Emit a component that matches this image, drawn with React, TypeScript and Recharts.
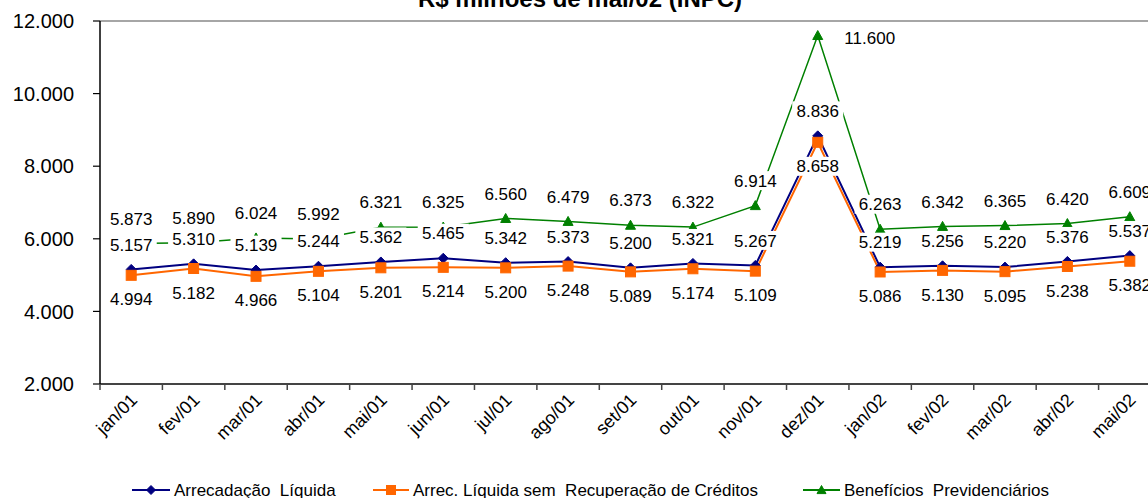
import React from 'react';
import { LineChart, Line, XAxis, YAxis, ReferenceLine, LabelList } from 'recharts';

const months = ['jan/01', 'fev/01', 'mar/01', 'abr/01', 'mai/01', 'jun/01', 'jul/01', 'ago/01', 'set/01', 'out/01', 'nov/01', 'dez/01', 'jan/02', 'fev/02', 'mar/02', 'abr/02', 'mai/02'];
const arrecadacao = [5157, 5310, 5139, 5244, 5362, 5465, 5342, 5373, 5200, 5321, 5267, 8836, 5219, 5256, 5220, 5376, 5537];
const arrecSemRecuperacao = [4994, 5182, 4966, 5104, 5201, 5214, 5200, 5248, 5089, 5174, 5109, 8658, 5086, 5130, 5095, 5238, 5382];
const beneficios = [5873, 5890, 6024, 5992, 6321, 6325, 6560, 6479, 6373, 6322, 6914, 11600, 6263, 6342, 6365, 6420, 6609];
const yTicks = [2000, 4000, 6000, 8000, 10000, 12000];
const seriesNames = ['Arrecadação  Líquida', 'Arrec. Líquida sem  Recuperação de Créditos', 'Benefícios  Previdenciários'];
const title = 'R$ milhões de mai/02 (INPC)';

const data = months.map((m, i) => ({
  month: m,
  arrec: arrecadacao[i],
  semRec: arrecSemRecuperacao[i],
  benef: beneficios[i],
}));

const peakIdx = beneficios.indexOf(Math.max(...beneficios));

const FONT = "Arial, 'Liberation Sans', sans-serif";
const CHART_W = 1170;
const CHART_H = 498;
const MARGIN = { top: 21, right: 9, left: 0, bottom: 0 };
const Y_W = 100;
const X_H = 114;
const PLOT_W = CHART_W - MARGIN.left - MARGIN.right - Y_W;
const HALF = PLOT_W / months.length / 2;
const TICK_SIZE = 6;
const TICK_MARGIN = 2;
const LABEL_FS = 17;

const NAVY = '#000080';
const ORANGE = '#FF6600';
const GREEN = '#008000';

const fmt = (v: number) => String(Math.round(v)).replace(/\B(?=(\d{3})+(?!\d))/g, '.');

const XTick = (props: any) => {
  const { x, y, payload } = props;
  const y0 = y - TICK_SIZE - TICK_MARGIN;
  return (
    <g>
      <line x1={x - HALF} y1={y0} x2={x - HALF} y2={y0 + TICK_SIZE} stroke="#444" strokeWidth={1.5} />
      <text
        x={x - 2}
        y={y}
        dy="0.72em"
        textAnchor="end"
        transform={`rotate(-45 ${x - 2} ${y})`}
        fontSize={18}
        fontFamily={FONT}
        fill="#000"
      >
        {payload.value}
      </text>
    </g>
  );
};

const makeLabel = (pos: 'above' | 'below', peakRight = false) => (props: any) => {
  const x = props.x ?? props.viewBox?.x;
  const y = props.y ?? props.viewBox?.y;
  const { value, index } = props;
  if (x == null || y == null || value == null) return null;
  let cx = x;
  let cy = pos === 'above' ? y - 25 : y + 24;
  if (peakRight && index === peakIdx) {
    cx = x + 52;
    cy = y + 2;
  }
  const text = fmt(value);
  const w = text.length * LABEL_FS * 0.53 + 6;
  const h = LABEL_FS + 2;
  return (
    <g>
      <rect x={cx - w / 2} y={cy - h / 2} width={w} height={h} fill="#fff" />
      <text x={cx} y={cy} dy="0.36em" textAnchor="middle" fontSize={LABEL_FS} fontFamily={FONT} fill="#000">
        {text}
      </text>
    </g>
  );
};

const Diamond = ({ cx, cy, s = 5 }: any) =>
  cx == null ? null : <polygon points={`${cx},${cy - s} ${cx + s},${cy} ${cx},${cy + s} ${cx - s},${cy}`} fill={NAVY} stroke={NAVY} />;
const Square = ({ cx, cy, s = 5 }: any) =>
  cx == null ? null : <rect x={cx - s} y={cy - s} width={2 * s} height={2 * s} fill={ORANGE} stroke={ORANGE} />;
const Triangle = ({ cx, cy, s = 5 }: any) =>
  cx == null ? null : <polygon points={`${cx},${cy - s} ${cx + s},${cy + s * 0.8} ${cx - s},${cy + s * 0.8}`} fill={GREEN} stroke={GREEN} />;

const renderDiamond = (p: any) => <Diamond key={`d${p.index}`} cx={p.cx} cy={p.cy} />;
const renderSquare = (p: any) => <Square key={`s${p.index}`} cx={p.cx} cy={p.cy} />;
const renderTriangle = (p: any) => <Triangle key={`t${p.index}`} cx={p.cx} cy={p.cy} />;

const legendItems = [
  { name: seriesNames[0], color: NAVY, Marker: Diamond, x: 132, w: 38 },
  { name: seriesNames[1], color: ORANGE, Marker: Square, x: 373, w: 36 },
  { name: seriesNames[2], color: GREEN, Marker: Triangle, x: 803, w: 37 },
];

export default function App() {
  return (
    <div
      style={{
        position: 'absolute',
        left: 0,
        top: 0,
        width: 1148,
        height: 498,
        overflow: 'hidden',
        background: '#fff',
        fontFamily: FONT,
      }}
    >
      <LineChart width={CHART_W} height={CHART_H} data={data} margin={MARGIN}>
        <XAxis
          dataKey="month"
          interval={0}
          height={X_H}
          padding={{ left: HALF, right: HALF }}
          tickSize={TICK_SIZE}
          tickMargin={TICK_MARGIN}
          tickLine={false}
          tick={<XTick />}
          axisLine={{ stroke: '#444', strokeWidth: 2 }}
        />
        <YAxis
          domain={[2000, 12000]}
          ticks={yTicks}
          width={Y_W}
          tickSize={7}
          tickMargin={19}
          tickFormatter={fmt}
          tick={{ fontSize: 20, fill: '#000', fontFamily: FONT }}
          tickLine={{ stroke: '#000', strokeWidth: 1.2 }}
          axisLine={{ stroke: '#000', strokeWidth: 1.5 }}
          allowDataOverflow
        />
        <ReferenceLine y={12000} stroke="#888" strokeWidth={1.5} />
        <Line dataKey="arrec" stroke={NAVY} strokeWidth={2} dot={renderDiamond} activeDot={false} isAnimationActive={false} />
        <Line dataKey="semRec" stroke={ORANGE} strokeWidth={2} dot={renderSquare} activeDot={false} isAnimationActive={false} />
        <Line dataKey="benef" stroke={GREEN} strokeWidth={1.5} dot={renderTriangle} activeDot={false} isAnimationActive={false} />
        <Line dataKey="benef" stroke="none" dot={false} activeDot={false} legendType="none" isAnimationActive={false}>
          <LabelList dataKey="benef" content={makeLabel('above', true)} />
        </Line>
        <Line dataKey="arrec" stroke="none" dot={false} activeDot={false} legendType="none" isAnimationActive={false}>
          <LabelList dataKey="arrec" content={makeLabel('above')} />
        </Line>
        <Line dataKey="semRec" stroke="none" dot={false} activeDot={false} legendType="none" isAnimationActive={false}>
          <LabelList dataKey="semRec" content={makeLabel('below')} />
        </Line>
      </LineChart>
      <svg width={1148} height={498} style={{ position: 'absolute', left: 0, top: 0, pointerEvents: 'none' }}>
        <text x={580} y={7} textAnchor="middle" fontSize={24} fontWeight="bold" fontFamily={FONT} fill="#000">
          {title}
        </text>
        {legendItems.map((it) => (
          <g key={it.name}>
            <line x1={it.x} y1={490} x2={it.x + it.w} y2={490} stroke={it.color} strokeWidth={2} />
            <it.Marker cx={it.x + it.w / 2} cy={490} s={4.5} />
            <text x={it.x + it.w + 4} y={490} dy="0.36em" fontSize={17} fontFamily={FONT} fill="#000" style={{ whiteSpace: 'pre' }}>
              {it.name}
            </text>
          </g>
        ))}
      </svg>
    </div>
  );
}
